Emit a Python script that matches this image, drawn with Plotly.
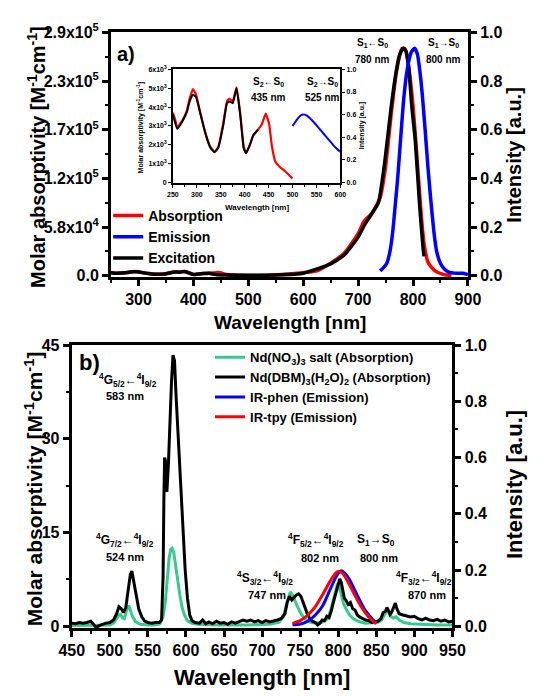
import plotly.graph_objects as go

W, H = 539, 696
FONT = "Liberation Sans, Arial, sans-serif"

# ---------------- Panel a data ----------------
abs_wl = [250, 255, 259, 265, 270, 279, 285, 292, 298, 308, 318, 328, 337, 345, 355, 363, 368,
          375, 383, 391, 398, 403, 411, 418, 428, 436, 444, 451, 457, 464, 474, 484, 494, 500,
          520, 550, 575, 600, 625, 650, 675, 700, 710, 715, 725, 740, 750, 760, 770, 780, 785,
          790, 800, 810, 815, 820, 828, 840, 855, 870]
abs_eps = [3700, 3300, 2900, 3100, 3300, 3800, 4450, 4950, 4700, 3600, 2600, 1900, 1600, 1900,
           3100, 4300, 4450, 4300, 5050, 3600, 1900, 1550, 2000, 2500, 2800, 3100, 3650, 3100,
           1900, 1100, 800, 600, 350, 200, 300, 1000, 2000, 3500, 5800, 15000, 27000, 50000,
           64000, 68000, 74000, 93000, 130000, 191000, 244000, 271000, 271000, 258000, 203000,
           116000, 72000, 38000, 15000, 5800, 1500, 0]

exc_wl = [250, 259, 270, 280, 285, 292, 298, 308, 318, 328, 337, 345, 355, 363, 368, 375, 383,
          391, 398, 403, 411, 418, 428, 440, 460, 500, 550, 600, 650, 675, 700, 712, 723, 737,
          748, 760, 768, 775, 782, 787, 792, 798, 804, 812, 818, 820]
exc_eps = [3600, 2850, 3250, 3800, 4300, 4650, 4550, 3600, 2600, 1850, 1600, 1850, 3000, 4200,
           4300, 4200, 5000, 3500, 1800, 1550, 2000, 2500, 2800, 1500, 800, 500, 900, 3000,
           14000, 25000, 46000, 61000, 72000, 87000, 133000, 200000, 238000, 262000, 271000,
           268000, 249000, 200000, 162000, 84000, 35000, 23000]

em_wl = [740, 745, 752, 758, 763, 768, 772, 777, 782, 787, 792, 797, 803, 808, 812, 817, 822,
         827, 832, 838, 843, 850, 858, 865, 880, 890, 900]
em_int = [0.02, 0.03, 0.05, 0.10, 0.18, 0.30, 0.40, 0.55, 0.70, 0.81, 0.88, 0.92, 0.935, 0.91,
          0.85, 0.74, 0.60, 0.45, 0.32, 0.18, 0.10, 0.05, 0.025, 0.015, 0.01, 0.01, 0.005]

inset_em_wl = [500, 505, 512, 518, 524, 530, 538, 545, 555, 565, 575, 585, 592, 600]
inset_em_int = [0.50, 0.53, 0.57, 0.595, 0.60, 0.59, 0.56, 0.53, 0.48, 0.43, 0.38, 0.33, 0.30, 0.27]
inset_exc_max_wl = 430

a_left_vals = [0, 58000, 116000, 174000, 232000, 290000]
a_left_text = ["0.0", "5.8x10<sup>4</sup>", "1.2x10<sup>5</sup>", "1.7x10<sup>5</sup>",
               "2.3x10<sup>5</sup>", "2.9x10<sup>5</sup>"]
a_left_minor = [29000, 87000, 145000, 203000, 261000]
inset_left_vals = [0, 1000, 2000, 3000, 4000, 5000, 6000]
inset_left_text = ["0", "1x10<sup>3</sup>", "2x10<sup>3</sup>", "3x10<sup>3</sup>",
                   "4x10<sup>3</sup>", "5x10<sup>3</sup>", "6x10<sup>3</sup>"]

# ---------------- Panel b data ----------------
dbm_wl = [450, 455, 460, 465, 470, 475, 478, 482, 486, 490, 495, 500, 505, 509, 512, 515, 518,
          521, 524, 527, 529, 531, 534, 538, 542, 546, 550, 555, 560, 565, 568, 570, 571, 572,
          573, 574, 575, 577, 579, 581, 583, 585, 587, 590, 593, 596, 599, 602, 605, 608, 612,
          618, 622, 626, 630, 635, 640, 645, 650, 655, 660, 665, 670, 675, 680, 685, 690, 695,
          700, 705, 710, 715, 720, 725, 730, 733, 736, 739, 742, 745, 748, 751, 754, 757, 760,
          763, 766, 770, 773, 776, 779, 782, 785, 788, 791, 794, 797, 800, 802, 804, 806, 808,
          810, 813, 816, 819, 822, 825, 828, 832, 836, 840, 844, 848, 852, 856, 859, 862, 864,
          866, 868, 870, 873, 875, 877, 880, 885, 890, 895, 900, 905, 910, 915, 920, 925, 930,
          935, 940, 945, 950]
dbm_abs = [0.5, 0.4, 0.6, 0.5, 0.6, 0.8, 0.4, -0.2, 0.1, 0.3, 0.5, 0.6, 1.0, 2.0, 3.1, 2.8, 2.2,
           3.0, 5.5, 8.3, 8.8, 7.5, 5.0, 2.8, 1.5, 0.8, 0.6, 0.5, 0.6, 0.6, 1.0, 8.0, 20.0, 27.0,
           26.5, 22.5, 21.5, 26.0, 33.0, 39.0, 43.4, 42.5, 37.0, 30.0, 22.0, 15.0, 9.0, 4.5, 1.8,
           0.9, 0.6, 0.5, 1.0, 0.4, 0.7, 0.4, 0.8, 0.5, 0.6, 0.3, 0.7, 0.5, 0.8, 1.0, 0.8, 1.0,
           0.7, 0.9, 0.6, 0.9, 0.7, 0.8, 1.0, 1.2, 2.0, 3.8, 4.8, 4.2, 4.6, 5.0, 5.2, 4.8, 3.8,
           2.8, 1.8, 1.2, 0.8, 0.6, 0.2, 0.5, 1.0, 0.9, 1.6, 1.4, 2.5, 4.0, 5.5, 7.0, 7.6, 7.0,
           5.5, 4.5, 4.2, 3.5, 3.8, 2.8, 2.6, 1.8, 1.5, 1.2, 1.0, 0.9, 0.6, 0.7, 0.8, 1.2, 2.2,
           2.4, 3.0, 2.5, 1.9, 2.2, 3.0, 3.7, 2.8, 2.0, 1.8, 1.7, 1.5, 1.6, 1.2, 1.0, 1.3, 1.0,
           0.9, 1.1, 0.8, 1.0, 0.7, 0.8]

salt_wl = [450, 470, 490, 500, 505, 509, 512, 514, 517, 519, 521, 523, 525, 527, 530, 534, 540,
           550, 560, 566, 570, 573, 576, 578, 580, 582, 584, 586, 589, 592, 595, 598, 602, 607,
           615, 640, 680, 710, 722, 728, 732, 735, 737, 740, 743, 747, 751, 756, 762, 770, 780,
           786, 790, 794, 797, 799, 801, 804, 807, 811, 815, 820, 826, 835, 845, 852, 857, 861,
           864, 866, 869, 872, 876, 880, 886, 895, 910, 930, 950]
salt_abs = [0.1, 0.1, 0.1, 0.2, 0.5, 1.2, 1.8, 1.9, 1.3, 1.2, 2.0, 3.0, 3.3, 2.6, 1.5, 0.7, 0.3,
            0.2, 0.2, 0.4, 1.5, 4.0, 8.5, 11.0, 12.3, 12.5, 11.8, 10.0, 7.5, 5.0, 3.0, 1.8, 0.9,
            0.5, 0.3, 0.2, 0.2, 0.3, 0.6, 1.5, 3.5, 5.0, 5.5, 5.0, 4.0, 3.0, 2.0, 1.2, 0.7, 0.5,
            0.7, 1.2, 2.5, 4.5, 6.2, 6.8, 6.5, 5.0, 3.6, 2.6, 1.8, 1.2, 0.8, 0.5, 0.5, 0.6, 1.0,
            1.8, 2.5, 2.3, 1.6, 1.3, 1.5, 1.0, 0.6, 0.4, 0.3, 0.2, 0.2]

tpy_wl = [740, 750, 760, 770, 780, 790, 797, 800, 805, 810, 820, 830, 840, 850]
tpy_int = [0.01, 0.02, 0.04, 0.07, 0.115, 0.163, 0.19, 0.195, 0.19, 0.172, 0.12, 0.07, 0.033, 0.008]
phen_wl = [740, 750, 760, 770, 780, 790, 798, 804, 810, 815, 825, 835, 845, 850]
phen_int = [0.005, 0.008, 0.018, 0.04, 0.075, 0.135, 0.18, 0.197, 0.185, 0.165, 0.11, 0.058, 0.025, 0.012]

GREEN = "#37c990"


def px(x):
    return x / W


def py(y):
    return 1 - y / H


fig = go.Figure()

# ---- panel a main ----
fig.add_trace(go.Scatter(x=abs_wl, y=abs_eps, xaxis="x", yaxis="y", mode="lines",
                         line=dict(color="#ff0000", width=3.5, shape="spline", smoothing=0.5),
                         name="Absorption", legend="legend", legendrank=1))
fig.add_trace(go.Scatter(x=em_wl, y=em_int, xaxis="x", yaxis="y2", mode="lines",
                         line=dict(color="#0000ff", width=3.5, shape="spline", smoothing=0.5),
                         name="Emission", legend="legend", legendrank=2))
fig.add_trace(go.Scatter(x=exc_wl, y=exc_eps, xaxis="x", yaxis="y", mode="lines",
                         line=dict(color="#000000", width=3.5, shape="spline", smoothing=0.5),
                         name="Excitation", legend="legend", legendrank=3))

# ---- inset ----
in_abs_x = [w for w in abs_wl if w <= 500]
in_abs_y = [v for w, v in zip(abs_wl, abs_eps) if w <= 500]
in_exc_x = [w for w in exc_wl if w <= inset_exc_max_wl]
in_exc_y = [v for w, v in zip(exc_wl, exc_eps) if w <= inset_exc_max_wl]
fig.add_trace(go.Scatter(x=in_abs_x, y=in_abs_y, xaxis="x2", yaxis="y3", mode="lines",
                         line=dict(color="#ff0000", width=2.2, shape="spline", smoothing=0.4),
                         showlegend=False))
fig.add_trace(go.Scatter(x=in_exc_x, y=in_exc_y, xaxis="x2", yaxis="y3", mode="lines",
                         line=dict(color="#000000", width=2.0, shape="spline", smoothing=0.4),
                         showlegend=False))
fig.add_trace(go.Scatter(x=inset_em_wl, y=inset_em_int, xaxis="x2", yaxis="y4", mode="lines",
                         line=dict(color="#0000ff", width=2.0, shape="spline", smoothing=0.5),
                         showlegend=False))

# ---- panel b ----
fig.add_trace(go.Scatter(x=salt_wl, y=salt_abs, xaxis="x3", yaxis="y5", mode="lines",
                         line=dict(color=GREEN, width=3),
                         name="Nd(NO<sub>3</sub>)<sub>3</sub> salt (Absorption)",
                         legend="legend2", legendrank=1))
fig.add_trace(go.Scatter(x=phen_wl, y=phen_int, xaxis="x3", yaxis="y6", mode="lines",
                         line=dict(color="#0000ff", width=3, shape="spline", smoothing=0.6),
                         name="IR-phen (Emission)", legend="legend2", legendrank=3))
fig.add_trace(go.Scatter(x=tpy_wl, y=tpy_int, xaxis="x3", yaxis="y6", mode="lines",
                         line=dict(color="#ff0000", width=3, shape="spline", smoothing=0.6),
                         name="IR-tpy (Emission)", legend="legend2", legendrank=4))
fig.add_trace(go.Scatter(x=dbm_wl, y=dbm_abs, xaxis="x3", yaxis="y5", mode="lines",
                         line=dict(color="#000000", width=3),
                         name="Nd(DBM)<sub>3</sub>(H<sub>2</sub>O)<sub>2</sub> (Absorption)",
                         legend="legend2", legendrank=2))

tick_font = dict(family=FONT, size=16, color="black", weight="bold")
small_font = dict(family=FONT, size=7, color="black", weight="bold")

common = dict(showgrid=False, zeroline=False, showline=True, linecolor="black",
              ticks="outside", tickcolor="black")

fig.update_layout(
    width=W, height=H, margin=dict(l=0, r=0, t=0, b=0),
    paper_bgcolor="white", plot_bgcolor="white", showlegend=True,
    xaxis=dict(domain=[px(103), px(478)], anchor="y", range=[250, 900], tick0=0, dtick=100,
               linewidth=3, mirror=True, ticklen=6, tickwidth=2.5, tickfont=tick_font,
               minor=dict(dtick=50, ticklen=3, tickwidth=2, ticks="outside", tickcolor="black"),
               **common),
    yaxis=dict(domain=[py(273), py(22)], anchor="x", range=[-1500, 290000],
               tickmode="array", tickvals=a_left_vals, ticktext=a_left_text,
               linewidth=3, ticklen=6, tickwidth=2.5, tickfont=tick_font,
               minor=dict(tickvals=a_left_minor, ticklen=3, tickwidth=2, ticks="outside",
                          tickcolor="black"),
               **common),
    yaxis2=dict(overlaying="y", side="right", anchor="x", range=[-1500 / 290000, 1.0],
                tick0=0, dtick=0.2, tickformat=".1f",
                linewidth=3, ticklen=6, tickwidth=2.5, tickfont=tick_font,
                minor=dict(dtick=0.1, ticklen=3, tickwidth=2, ticks="outside", tickcolor="black"),
                **common),
    xaxis2=dict(domain=[px(168), px(344)], anchor="y3", range=[250, 600], tick0=0, dtick=50,
                linewidth=1.5, mirror=True, ticklen=3, tickwidth=1.2, tickfont=small_font,
                minor=dict(dtick=25, ticklen=2, tickwidth=1, ticks="outside", tickcolor="black"),
                **common),
    yaxis3=dict(domain=[py(177), py(60)], anchor="x2", range=[-60, 6000],
                tickmode="array", tickvals=inset_left_vals, ticktext=inset_left_text,
                linewidth=1.5, ticklen=3, tickwidth=1.2, tickfont=small_font, **common),
    yaxis4=dict(overlaying="y3", side="right", anchor="x2", range=[-0.01, 1.0],
                tick0=0, dtick=0.2, tickformat=".1f",
                linewidth=1.5, ticklen=3, tickwidth=1.2, tickfont=small_font, **common),
    xaxis3=dict(domain=[px(61.7), px(461.7)], anchor="y5", range=[450, 950], tick0=0, dtick=50,
                linewidth=3, mirror=True, ticklen=6, tickwidth=2.5, tickfont=tick_font,
                minor=dict(dtick=25, ticklen=3, tickwidth=2, ticks="outside", tickcolor="black"),
                **common),
    yaxis5=dict(domain=[py(633.5), py(343)], anchor="x3", range=[-0.3, 45], tick0=0, dtick=15,
                linewidth=3, ticklen=6, tickwidth=2.5, tickfont=tick_font,
                minor=dict(dtick=7.5, ticklen=3, tickwidth=2, ticks="outside", tickcolor="black"),
                **common),
    yaxis6=dict(overlaying="y5", side="right", anchor="x3", range=[-0.3 / 45, 1.0],
                tick0=0, dtick=0.2, tickformat=".1f",
                linewidth=3, ticklen=6, tickwidth=2.5, tickfont=tick_font,
                minor=dict(dtick=0.1, ticklen=3, tickwidth=2, ticks="outside", tickcolor="black"),
                **common),
    legend=dict(x=px(100), y=py(194), xanchor="left", yanchor="top",
                font=dict(family=FONT, size=14, color="black", weight="bold"),
                bgcolor="rgba(0,0,0,0)", itemwidth=30, tracegroupgap=0),
    legend2=dict(x=px(207), y=py(340), xanchor="left", yanchor="top",
                 font=dict(family=FONT, size=13, color="black", weight="bold"),
                 bgcolor="rgba(0,0,0,0)", itemwidth=30, tracegroupgap=0),
)

anns = []


def label(text, x, y, size, angle=0):
    anns.append(dict(text=text, x=px(x), y=py(y), xref="paper", yref="paper",
                     showarrow=False, textangle=angle, xanchor="center", yanchor="middle",
                     font=dict(family=FONT, size=size, color="black", weight="bold")))


MA = "Molar absorptivity [M<sup>-1</sup>cm<sup>-1</sup>]"
# axis titles
label(MA, 24, 150, 20, -90)
label("Intensity [a.u.]", 527, 148, 20, -90)
label("Wavelength [nm]", 291, 320, 19)
label(MA, 22, 490, 21, -90)
label("Intensity [a.u.]", 527, 486, 22, -90)
label("Wavelength [nm]", 262, 684, 22)
# inset titles
label(MA, 134, 120, 7, -90)
label("Intensity [a.u.]", 367, 118, 7, -90)
label("Wavelength [nm]", 256, 202, 8)

# panel a labels
label("a)", 119, 44, 20)
label("S<sub>1</sub>←S<sub>0</sub>", 378, 33, 10)
label("780 nm", 378, 50, 10)
label("S<sub>1</sub>→S<sub>0</sub>", 452, 33, 10)
label("800 nm", 452, 50, 10)
label("S<sub>2</sub>←S<sub>0</sub>", 268, 73, 10)
label("435 nm", 268, 89, 10)
label("S<sub>2</sub>→S<sub>0</sub>", 325, 73, 10)
label("525 nm", 325, 89, 10)

# panel b labels
label("b)", 80, 361, 22)
label("<sup>4</sup>G<sub>5/2</sub>←<sup>4</sup>I<sub>9/2</sub>", 121, 379, 12)
label("583 nm", 118, 395, 11)
label("<sup>4</sup>G<sub>7/2</sub>←<sup>4</sup>I<sub>9/2</sub>", 118, 543, 12)
label("524 nm", 118, 561, 11)
label("<sup>4</sup>S<sub>3/2</sub>←<sup>4</sup>I<sub>9/2</sub>", 265, 582, 12)
label("747 nm", 267, 600, 11)
label("<sup>4</sup>F<sub>5/2</sub>←<sup>4</sup>I<sub>9/2</sub>", 318, 543, 12)
label("802 nm", 323, 562, 11)
label("S<sub>1</sub>→S<sub>0</sub>", 381, 543, 12)
label("800 nm", 385, 562, 11)
label("<sup>4</sup>F<sub>3/2</sub>←<sup>4</sup>I<sub>9/2</sub>", 432, 582, 12)
label("870 nm", 435, 600, 11)

fig.update_layout(annotations=anns)
fig.write_html("out.html")
